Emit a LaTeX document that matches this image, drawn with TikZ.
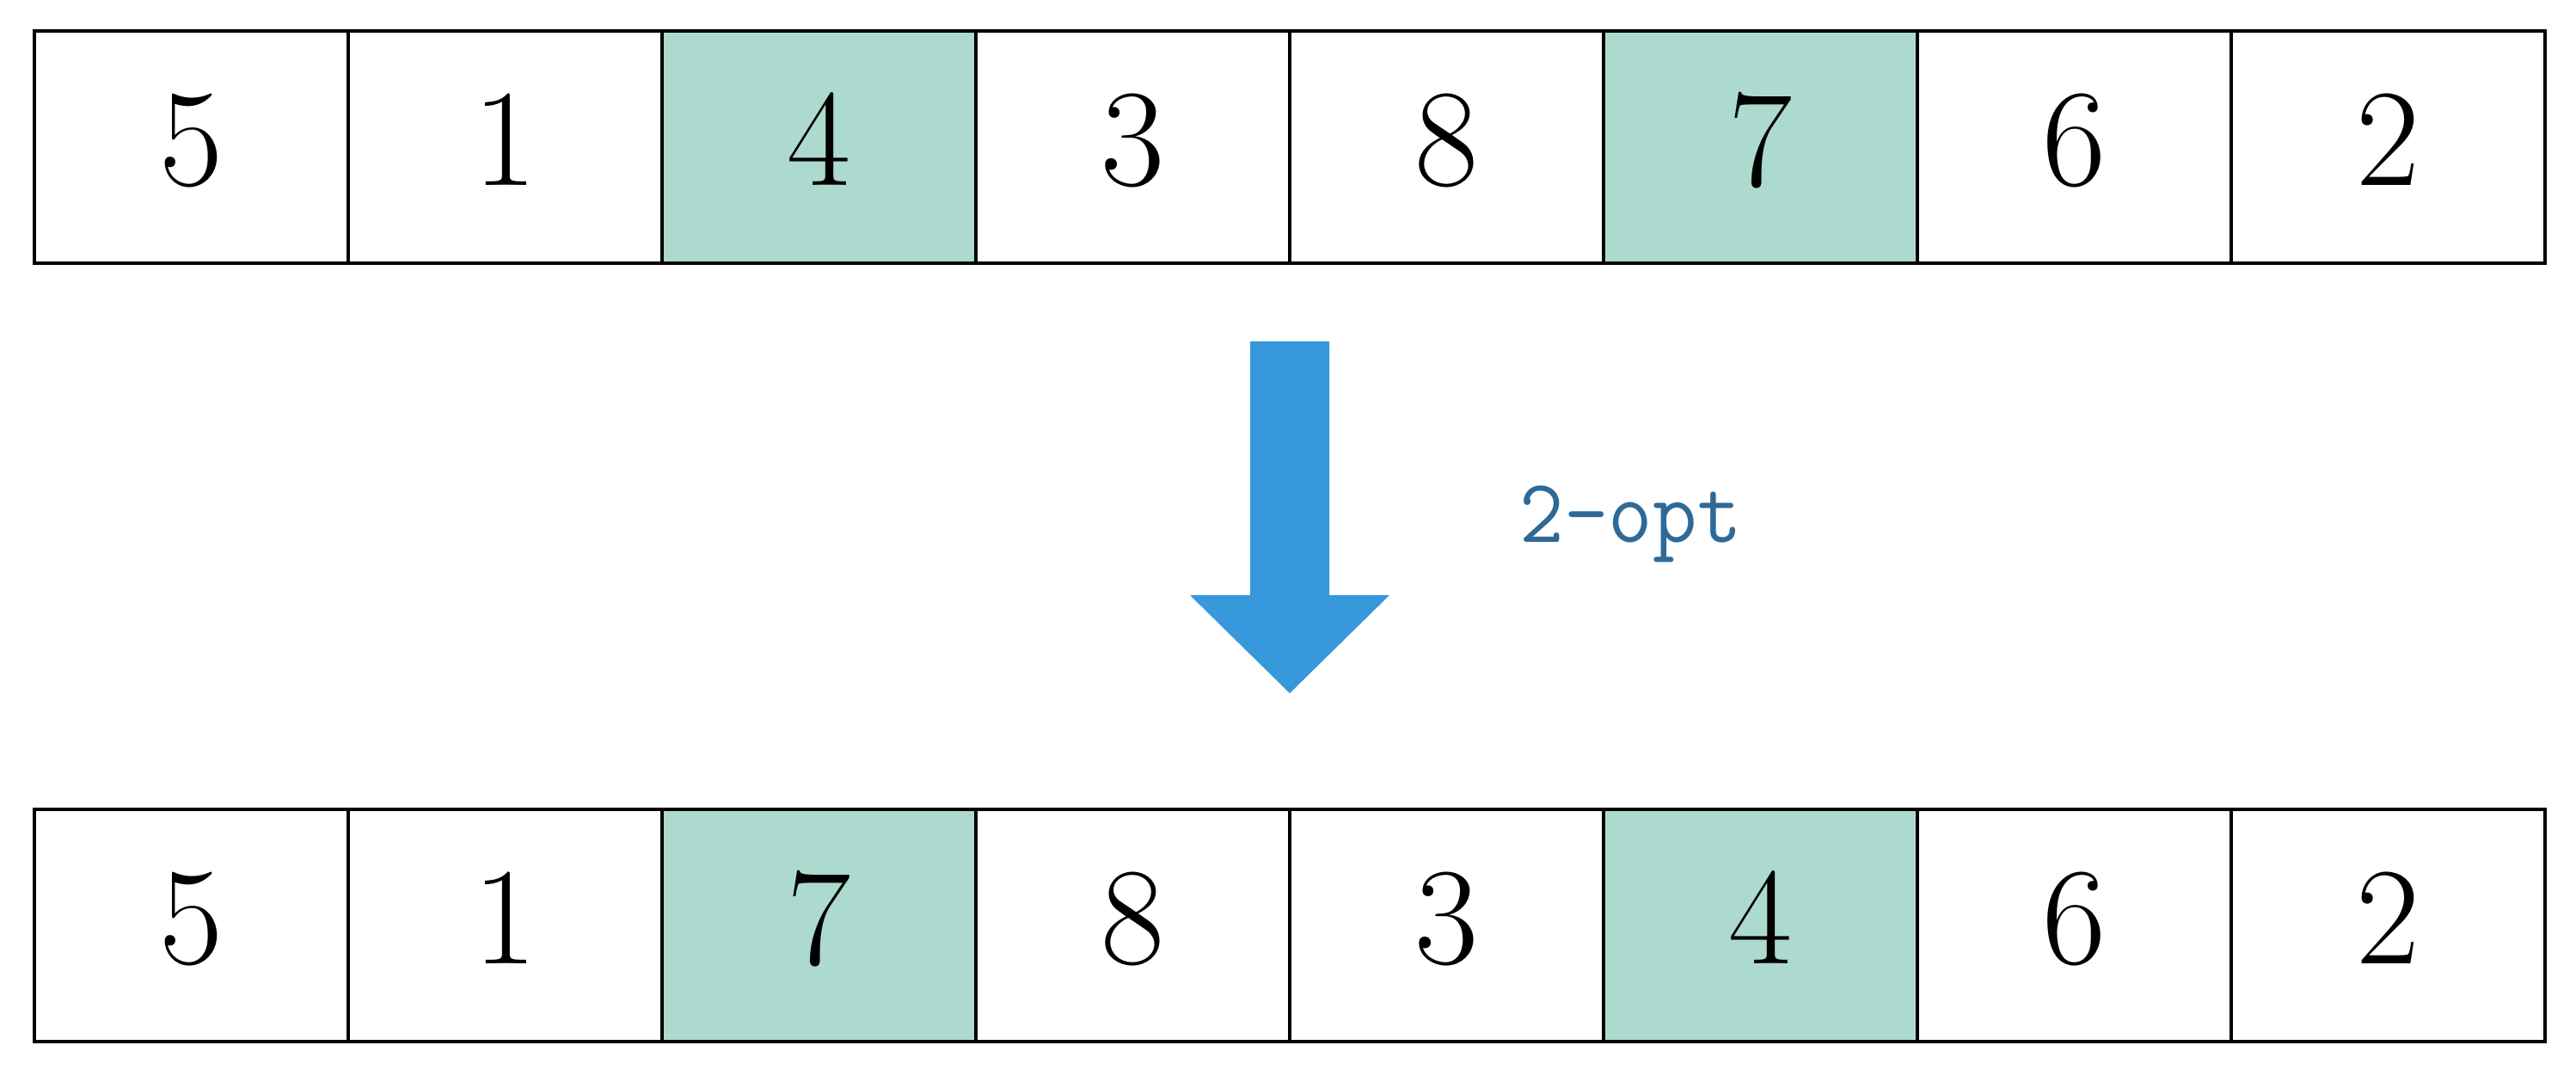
\documentclass[tikz,border=0pt]{standalone}
\usepackage{fontspec}
\usepackage{graphicx}
\definecolor{cellfill}{HTML}{ACDACE}
\definecolor{arrowblue}{HTML}{3798DB}
\definecolor{labelblue}{HTML}{2E6A98}
\newcommand{\bigdigit}[1]{\raisebox{0.18cm}{\scalebox{1.24}{#1}}}
\begin{document}
\begin{tikzpicture}[
  cell/.style={draw=black, line width=1.1pt, minimum width=3.65cm, minimum height=2.7cm,
    inner sep=0pt, outer sep=0pt, anchor=south west, font=\fontsize{37}{44}\selectfont},
  hl/.style={fill=cellfill},
  bigarrow/.style={fill=arrowblue, draw=none},
  lbl/.style={text=labelblue, font=\ttfamily\fontsize{30}{36}\selectfont, anchor=base west,
    inner sep=0pt, xscale=0.95}
]
\useasboundingbox (0,0) rectangle (29.96,12.51);
% top row
\foreach \v/\s [count=\i from 0] in {5/,1/,4/hl,3/,8/,7/hl,6/,2/} {
  \node[cell,\s] (t\i) at ({0.40+3.65*\i},9.45) {\bigdigit{\v}};
}
% bottom row
\foreach \v/\s [count=\i from 0] in {5/,1/,7/hl,8/,3/,4/hl,6/,2/} {
  \node[cell,\s] (b\i) at ({0.40+3.65*\i},0.40) {\bigdigit{\v}};
}
% block arrow
\coordinate (tip) at (15.0,4.45);
\fill[bigarrow] (14.54,8.54) -- (15.46,8.54) -- (15.46,5.59) -- (16.16,5.59)
  -- (tip) -- (13.84,5.59) -- (14.54,5.59) -- cycle;
\node[lbl] (opt) at (17.67,6.20) {2-opt};
\end{tikzpicture}
\end{document}
